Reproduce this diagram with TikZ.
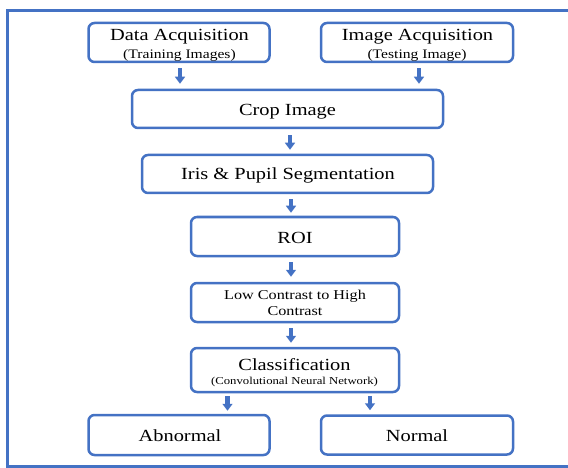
\documentclass[tikz,border=0pt]{standalone}
\usepackage{fontspec}
\setmainfont[FakeStretch=1.2]{Liberation Serif}
\usetikzlibrary{arrows.meta}

\definecolor{flowblue}{HTML}{4472C4}

\newcommand\bigtxt{\fontsize{17}{19}\selectfont}
\newcommand\subtxt{\fontsize{13}{15}\selectfont}
\newcommand\midtxt{\fontsize{13.5}{16}\selectfont}
\newcommand\smalltxt{\fontsize{10.6}{12}\selectfont}

\tikzset{
  stepbox/.style={draw=flowblue, line width=2.5pt, rounded corners=6pt,
    fill=white, inner sep=0pt},
  txt/.style={inner sep=0pt, anchor=base, text=black},
  flowarrow/.style={draw=flowblue, line width=4.5pt,
    -{Triangle[width=10pt,length=7pt]}},
  frame/.style={draw=flowblue, line width=3.5pt}
}

\begin{document}
\begin{tikzpicture}[x=1pt, y=-1pt]
  \useasboundingbox (0,0) rectangle (568,468);
  \clip (0,0) rectangle (568,468);

  % outer frame
  \draw[frame] (7.5,10.5) rectangle (640,466.5);

  % boxes
  \node[stepbox, minimum width=181pt, minimum height=39pt] (da)   at (179,42.5) {};
  \node[stepbox, minimum width=192pt, minimum height=39pt] (ia)   at (417,42.5) {};
  \node[stepbox, minimum width=311pt, minimum height=38pt] (crop) at (287.5,109) {};
  \node[stepbox, minimum width=291pt, minimum height=38pt] (iris) at (287.5,174) {};
  \node[stepbox, minimum width=208pt, minimum height=39pt] (roi)  at (295,236.5) {};
  \node[stepbox, minimum width=208pt, minimum height=39pt] (lc)   at (295,302.5) {};
  \node[stepbox, minimum width=208pt, minimum height=44pt] (cls)  at (295,370) {};
  \node[stepbox, minimum width=181pt, minimum height=40pt] (abn)  at (179,435) {};
  \node[stepbox, minimum width=192pt, minimum height=39pt] (nor)  at (417,435) {};

  % labels
  \node[txt, font=\bigtxt] (da-a) at (179.5,40.7) {Data Acquisition};
  \node[txt, font=\subtxt] (da-b) at (179.5,58.3) {(Training Images)};
  \node[txt, font=\bigtxt] (ia-a) at (417.5,40.5) {Image Acquisition};
  \node[txt, font=\subtxt] (ia-b) at (417,58.3) {(Testing Image)};
  \node[txt, font=\bigtxt] (crop-a) at (287.5,115.7) {Crop Image};
  \node[txt, font=\bigtxt] (iris-a) at (288,180) {Iris \& Pupil Segmentation};
  \node[txt, font=\bigtxt] (roi-a) at (295,243.3) {ROI};
  \node[txt, font=\midtxt] (lc-a) at (295,299.3) {Low Contrast to High};
  \node[txt, font=\midtxt] (lc-b) at (295,315) {Contrast};
  \node[txt, font=\bigtxt] (cls-a) at (294.5,370) {Classification};
  \node[txt, font=\smalltxt] (cls-b) at (294.5,384.3) {(Convolutional Neural Network)};
  \node[txt, font=\bigtxt] (abn-a) at (180,441.7) {Abnormal};
  \node[txt, font=\bigtxt] (nor-a) at (417,441.7) {Normal};

  % block arrows between the stages
  \draw[flowarrow] ([xshift=1pt,yshift=-5pt]da.south) -- ([xshift=1pt,yshift=5pt]da.south |- crop.north);
  \draw[flowarrow] ([xshift=2pt,yshift=-5pt]ia.south) -- ([xshift=2pt,yshift=5pt]ia.south |- crop.north);
  \draw[flowarrow] ([xshift=2.5pt,yshift=-6pt]crop.south) -- ([xshift=2.5pt,yshift=4pt]crop.south |- iris.north);
  \draw[flowarrow] ([xshift=3.5pt,yshift=-5pt]iris.south) -- ([xshift=3.5pt,yshift=3pt]iris.south |- roi.north);
  \draw[flowarrow] ([xshift=-4pt,yshift=-5pt]roi.south) -- ([xshift=-4pt,yshift=5pt]roi.south |- lc.north);
  \draw[flowarrow] ([xshift=-4pt,yshift=-5pt]lc.south) -- ([xshift=-4pt,yshift=4pt]lc.south |- cls.north);
  \draw[flowarrow] ([xshift=-67.5pt,yshift=-3pt]cls.south) -- ([xshift=-67.5pt,yshift=3pt]cls.south |- abn.north);
  \draw[flowarrow] ([xshift=75pt,yshift=-3pt]cls.south) -- ([xshift=75pt,yshift=4pt]cls.south |- nor.north);
\end{tikzpicture}
\end{document}
